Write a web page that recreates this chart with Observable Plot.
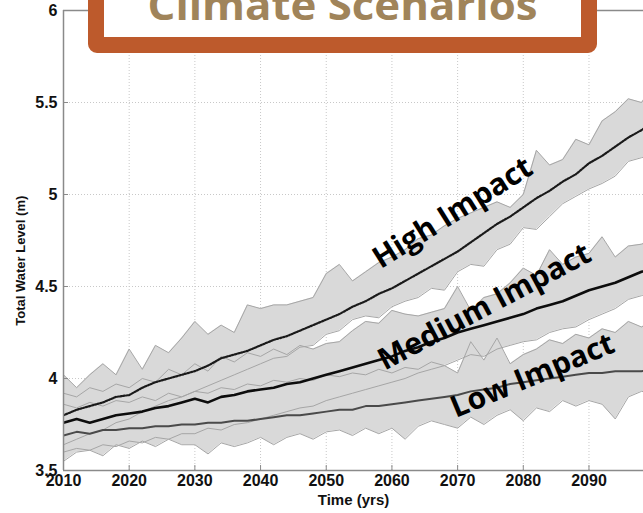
<!DOCTYPE html>
<html>
<head>
<meta charset="utf-8">
<script src="https://cdn.jsdelivr.net/npm/d3@7"></script>
<script src="https://cdn.jsdelivr.net/npm/@observablehq/plot@0.6"></script>
<style>
  html, body { margin: 0; padding: 0; background: #fff; overflow: hidden; }
  #chart { position: relative; width: 643px; height: 513px; }
  #banner { position: absolute; left: 0; top: 0; }
</style>
</head>
<body>
<div id="chart"></div>
<script>
// Projected total water level (m), every second year, for three climate scenarios.
const years = [2010,2012,2014,2016,2018,2020,2022,2024,2026,2028,
               2030,2032,2034,2036,2038,2040,2042,2044,2046,2048,
               2050,2052,2054,2056,2058,2060,2062,2064,2066,2068,
               2070,2072,2074,2076,2078,2080,2082,2084,2086,2088,
               2090,2092,2094,2096,2098,2100];

const highMean  = [3.80,3.83,3.85,3.87,3.90,3.91,3.95,3.98,4.00,4.02,
                   4.04,4.07,4.11,4.13,4.15,4.18,4.21,4.23,4.26,4.29,
                   4.32,4.35,4.39,4.42,4.46,4.49,4.53,4.57,4.61,4.65,
                   4.69,4.74,4.79,4.84,4.88,4.93,4.98,5.02,5.07,5.11,
                   5.17,5.21,5.26,5.31,5.35,5.40];
const highUpper = [4.02,3.95,4.02,4.08,4.02,4.16,4.05,4.18,4.14,4.22,
                   4.31,4.24,4.29,4.25,4.40,4.38,4.40,4.40,4.42,4.44,
                   4.57,4.62,4.53,4.58,4.63,4.66,4.70,4.76,4.78,4.83,
                   4.87,4.90,4.93,4.96,4.93,5.00,5.24,5.16,5.19,5.30,
                   5.27,5.40,5.45,5.52,5.50,5.60];
const highLower = [3.64,3.67,3.70,3.72,3.76,3.78,3.82,3.85,3.88,3.90,
                   3.93,3.96,3.99,4.02,4.05,4.08,4.11,4.12,4.17,4.18,
                   4.24,4.26,4.32,4.34,4.33,4.39,4.42,4.44,4.49,4.48,
                   4.58,4.62,4.61,4.70,4.73,4.82,4.81,4.88,4.95,4.99,
                   5.03,5.06,5.10,5.18,5.20,5.22];

const medMean   = [3.76,3.78,3.76,3.78,3.80,3.81,3.82,3.84,3.85,3.87,
                   3.89,3.87,3.90,3.91,3.93,3.94,3.95,3.97,3.98,4.00,
                   4.02,4.04,4.06,4.08,4.10,4.12,4.15,4.17,4.20,4.22,
                   4.25,4.27,4.29,4.31,4.33,4.35,4.38,4.40,4.42,4.45,
                   4.48,4.50,4.52,4.55,4.58,4.60];
const medUpper  = [3.92,3.90,3.95,3.93,3.97,3.95,4.00,3.98,4.05,4.02,
                   4.08,4.04,4.12,4.09,4.14,4.12,4.16,4.13,4.18,4.16,
                   4.19,4.20,4.26,4.31,4.30,4.37,4.35,4.34,4.36,4.38,
                   4.50,4.37,4.44,4.46,4.52,4.60,4.56,4.70,4.62,4.66,
                   4.68,4.77,4.66,4.72,4.73,4.76];
const medLower  = [3.60,3.62,3.61,3.64,3.63,3.66,3.65,3.68,3.67,3.70,
                   3.70,3.73,3.72,3.75,3.76,3.78,3.80,3.82,3.84,3.85,
                   3.88,3.90,3.92,3.94,3.96,3.98,4.00,4.03,4.05,4.07,
                   4.10,4.13,4.12,4.16,4.18,4.20,4.21,4.25,4.27,4.28,
                   4.32,4.35,4.38,4.43,4.45,4.48];

const lowMean   = [3.69,3.71,3.70,3.72,3.72,3.73,3.73,3.74,3.74,3.75,
                   3.75,3.76,3.76,3.77,3.77,3.78,3.79,3.80,3.80,3.81,
                   3.82,3.83,3.83,3.85,3.85,3.86,3.87,3.88,3.89,3.90,
                   3.91,3.93,3.94,3.95,3.97,3.98,3.99,4.00,4.01,4.02,
                   4.03,4.03,4.04,4.04,4.04,4.05];
const lowUpper  = [3.86,3.84,3.87,3.85,3.88,3.87,3.90,3.88,3.92,3.90,
                   3.93,3.92,3.95,3.94,3.97,3.96,3.99,3.98,4.00,3.99,
                   4.02,4.01,4.03,4.02,4.05,4.03,4.06,4.05,4.09,4.07,
                   4.03,4.20,4.10,4.22,4.08,4.13,4.16,4.21,4.19,4.24,
                   4.22,4.27,4.25,4.31,4.28,4.32];
const lowLower  = [3.55,3.60,3.61,3.58,3.64,3.62,3.66,3.63,3.67,3.64,
                   3.64,3.59,3.65,3.63,3.65,3.68,3.64,3.68,3.70,3.67,
                   3.71,3.72,3.69,3.73,3.70,3.73,3.67,3.74,3.77,3.75,
                   3.73,3.79,3.75,3.80,3.83,3.77,3.84,3.82,3.88,3.85,
                   3.88,3.86,3.78,3.90,3.93,3.92];

const scenarioNames = ["Low Impact", "Medium Impact", "High Impact"];
const xTicks = [2010,2020,2030,2040,2050,2060,2070,2080,2090];
const yTicks = [3.5,4,4.5,5,5.5,6];

const series = [
  {name: scenarioNames[0], mean: lowMean,  upper: lowUpper,  lower: lowLower},
  {name: scenarioNames[1], mean: medMean,  upper: medUpper,  lower: medLower},
  {name: scenarioNames[2], mean: highMean, upper: highUpper, lower: highLower}
];
const rows = series.flatMap(s => years.map((year, i) => ({
  scenario: s.name, year, mean: s.mean[i], upper: s.upper[i], lower: s.lower[i]
})));
const only = name => rows.filter(d => d.scenario === name);

const tickFont = "'Liberation Sans', Arial, Helvetica, sans-serif";
const labelFont = "'Open Sans', 'Noto Sans', sans-serif";
const nameStyle = {fontSize: 30, fontWeight: 700, fontFamily: labelFont, fill: "#000", lineAnchor: "middle"};

const chart = Plot.plot({
  width: 643,
  height: 513,
  marginLeft: 63,
  marginRight: 0,
  marginTop: 10,
  marginBottom: 43,
  style: {fontFamily: tickFont, background: "#fff", overflow: "visible"},
  x: {domain: [2010, 2098.3]},
  y: {domain: [3.5, 6]},
  marks: [
    Plot.gridX(xTicks, {stroke: "#c8c8c8", strokeOpacity: 1, strokeDasharray: "1,2"}),
    Plot.gridY(yTicks, {stroke: "#c8c8c8", strokeOpacity: 1, strokeDasharray: "1,2"}),
    // spread of each scenario
    Plot.areaY(rows, {x: "year", y1: "lower", y2: "upper", z: "scenario", fill: "#d9d9d9", fillOpacity: 1, clip: true}),
    Plot.lineY(rows, {x: "year", y: "upper", z: "scenario", stroke: "#a6a6a6", strokeWidth: 1, clip: true}),
    Plot.lineY(rows, {x: "year", y: "lower", z: "scenario", stroke: "#a6a6a6", strokeWidth: 1, clip: true}),
    // scenario averages
    Plot.lineY(only("Low Impact"), {x: "year", y: "mean", stroke: "#4a4a4a", strokeWidth: 2, clip: true}),
    Plot.lineY(only("Medium Impact"), {x: "year", y: "mean", stroke: "#0d0d0d", strokeWidth: 2.6, clip: true}),
    Plot.lineY(only("High Impact"), {x: "year", y: "mean", stroke: "#1a1a1a", strokeWidth: 2.2, strokeDasharray: "1.5,1.5", clip: true}),
    // scenario names along their curves
    Plot.text([scenarioNames[2]], {x: 2069.25, y: 4.90, rotate: -32, ...nameStyle}),
    Plot.text([scenarioNames[1]], {x: 2074.1, y: 4.39, rotate: -28, ...nameStyle}),
    Plot.text([scenarioNames[0]], {x: 2081.4, y: 4.015, rotate: -22.5, ...nameStyle}),
    // axes box
    Plot.ruleX([2010], {stroke: "#8a8a8a", strokeWidth: 1.5}),
    Plot.ruleY([3.5, 6], {stroke: "#8a8a8a", strokeWidth: 1.5}),
    Plot.axisY(yTicks, {tickSize: -5, tickPadding: 11, stroke: "#8a8a8a", fontSize: 16, fontWeight: 700, fill: "#111", label: null, tickFormat: d => String(d)}),
    Plot.axisX(xTicks, {tickSize: -5, tickPadding: 9, stroke: "#8a8a8a", fontSize: 16, fontWeight: 700, fill: "#111", label: null, tickFormat: d => String(d)}),
    Plot.text(["Time (yrs)"], {frameAnchor: "bottom", dy: 30, fontSize: 15, fontWeight: 700, fill: "#111", lineAnchor: "middle"}),
    Plot.text(["Total Water Level (m)"], {y: [4.64], frameAnchor: "left", dx: -43, rotate: -90, textAnchor: "middle", fontSize: 13, fontWeight: 700, fill: "#111", lineAnchor: "middle"})
  ]
});

const holder = document.getElementById("chart");
holder.appendChild(chart);

// Framed banner heading across the top of the plot
const ns = "http://www.w3.org/2000/svg";
const banner = document.createElementNS(ns, "svg");
banner.setAttribute("id", "banner");
banner.setAttribute("width", 643);
banner.setAttribute("height", 70);
banner.innerHTML = `
  <rect x="96" y="-40" width="493" height="85" rx="1" fill="#fff" stroke="#bd5a2c" stroke-width="16"/>
  <text x="342.5" y="20" text-anchor="middle" font-family="'Open Sans', sans-serif" font-weight="700"
        font-size="41" fill="#a0845a" textLength="390" lengthAdjust="spacingAndGlyphs">Climate Scenarios</text>`;
holder.appendChild(banner);
</script>
</body>
</html>
